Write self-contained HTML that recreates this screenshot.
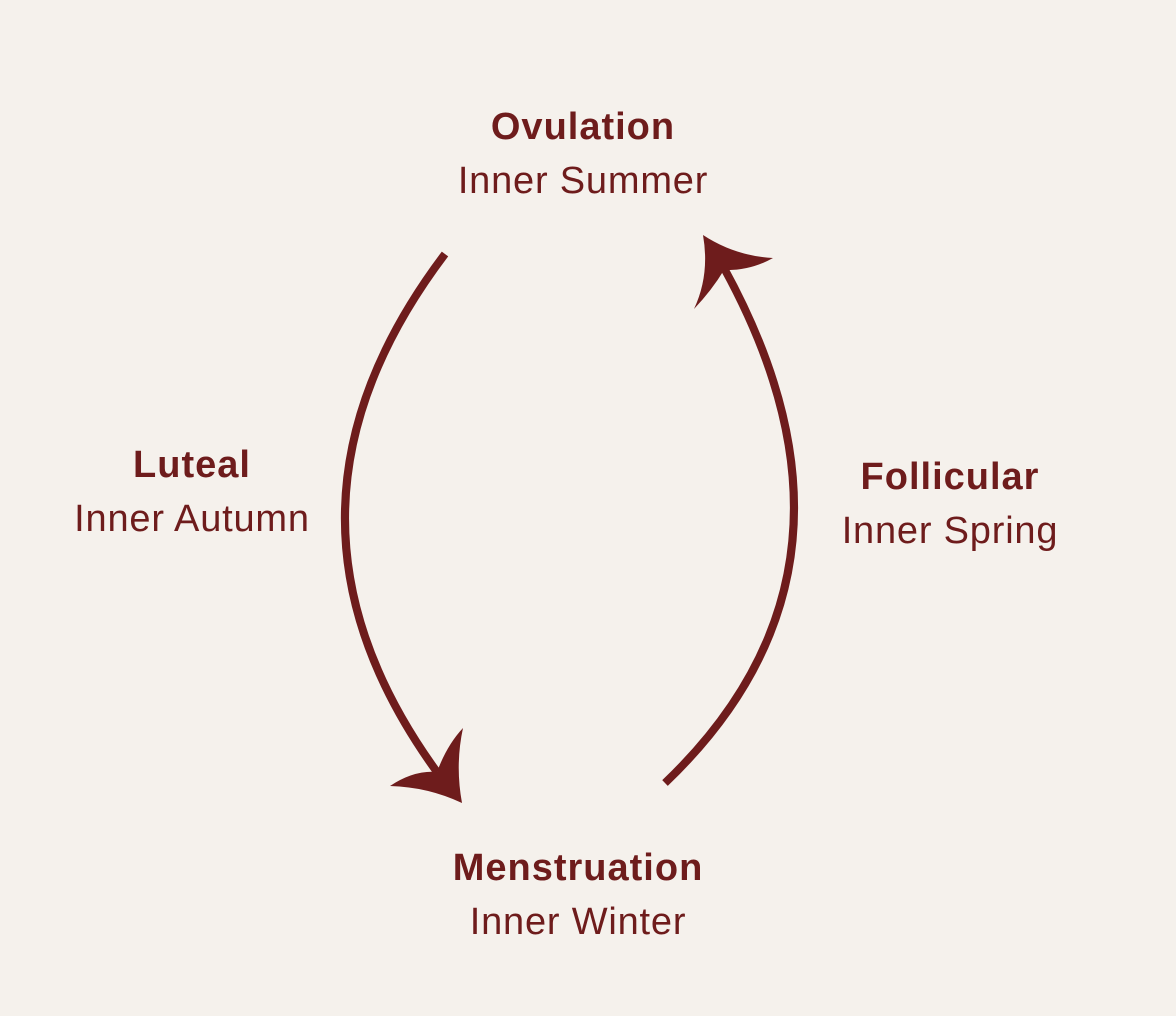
<!DOCTYPE html>
<html><head><style>
html,body{margin:0;padding:0;background:#f5f1ec;}
svg{display:block}
text{font-family:"Liberation Sans",sans-serif;fill:#6e1c1c;text-anchor:middle}
.b{font-weight:bold;font-size:38px;letter-spacing:1px}
.l{font-size:38px;letter-spacing:0.8px}
</style></head><body>
<svg width="1176" height="1016" viewBox="0 0 1176 1016">
<rect width="1176" height="1016" fill="#f5f1ec"/>
<text class="b" x="583" y="139">Ovulation</text>
<text class="l" x="583" y="193">Inner Summer</text>
<text class="b" x="192" y="477">Luteal</text>
<text class="l" x="192" y="531">Inner Autumn</text>
<text class="b" x="950" y="489">Follicular</text>
<text class="l" x="950" y="543">Inner Spring</text>
<text class="b" x="578" y="880">Menstruation</text>
<text class="l" x="578" y="934">Inner Winter</text>
<g fill="none" stroke="#6e1c1c" stroke-width="8">
<path d="M445,254 Q249,513 437,772"/>
<path d="M665,783 Q889,569 724,268"/>
</g>
<g fill="#6e1c1c">
<path d="M703,235 Q735,256 773,258 Q750,271 724,270 Q712,290 694,309 Q710,275 703,235 Z"/>
<path d="M462,803 Q428,787 390,786 Q414,770 437,772 Q447,745 463,728 Q455,765 462,803 Z"/>
</g>
</svg>
</body></html>
